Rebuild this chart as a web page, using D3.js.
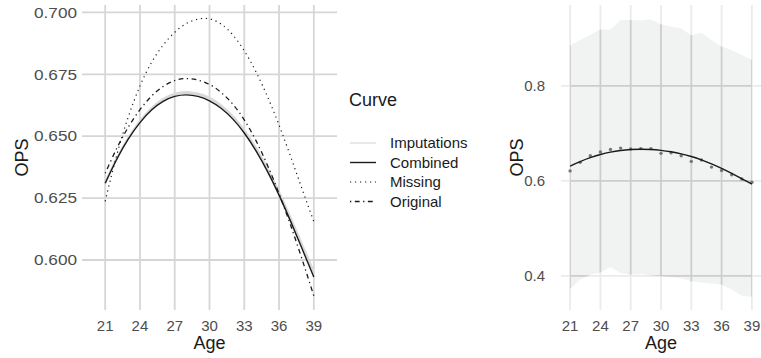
<!DOCTYPE html>
<html>
<head>
<meta charset="utf-8">
<script src="https://cdn.jsdelivr.net/npm/d3@7"></script>
<style>
  body { margin: 0; background: #fff; }
  text { font-family: "Liberation Sans", Arial, sans-serif; }
</style>
</head>
<body>
<svg id="viz" width="761" height="358"></svg>
<script>
// ages on the x axis, one value per age for every curve
var ages = [21, 22, 23, 24, 25, 26, 27, 28, 29, 30, 31, 32, 33, 34, 35, 36, 37, 38, 39];

var combined = [0.631, 0.6407, 0.6489, 0.6555, 0.6606, 0.6641, 0.6661, 0.6667, 0.6661, 0.6643, 0.6613, 0.6570, 0.6513, 0.6442, 0.6358, 0.6262, 0.6156, 0.6044, 0.5931];
var missing  = [0.6237, 0.6424, 0.6579, 0.6703, 0.6798, 0.6868, 0.6920, 0.6955, 0.6973, 0.6974, 0.6953, 0.6910, 0.6845, 0.6761, 0.6660, 0.6545, 0.6418, 0.6285, 0.6155];
var original = [0.635, 0.6451, 0.6537, 0.6607, 0.6662, 0.6701, 0.6725, 0.6733, 0.6727, 0.6709, 0.6677, 0.6630, 0.6566, 0.6483, 0.6383, 0.6268, 0.6140, 0.6001, 0.5855];

// individual imputation fits (light grey band)
var imp1 = [0.6313, 0.6411, 0.6494, 0.6561, 0.6613, 0.6649, 0.6670, 0.6677, 0.6671, 0.6654, 0.6624, 0.6581, 0.6524, 0.6453, 0.6369, 0.6274, 0.6169, 0.6059, 0.5950];
var imp2 = [0.6306, 0.6405, 0.6490, 0.6558, 0.6610, 0.6646, 0.6667, 0.6673, 0.6667, 0.6650, 0.6620, 0.6577, 0.6520, 0.6449, 0.6365, 0.6270, 0.6165, 0.6055, 0.5945];
var imp3 = [0.6318, 0.6415, 0.6497, 0.6564, 0.6616, 0.6652, 0.6673, 0.6680, 0.6674, 0.6657, 0.6627, 0.6584, 0.6527, 0.6457, 0.6373, 0.6279, 0.6175, 0.6066, 0.5958];
var imp4 = [0.6310, 0.6408, 0.6491, 0.6559, 0.6611, 0.6647, 0.6668, 0.6675, 0.6669, 0.6652, 0.6622, 0.6579, 0.6522, 0.6451, 0.6367, 0.6272, 0.6167, 0.6057, 0.5948];
var imputations = [imp1, imp2, imp3, imp4];

// right panel: observed means and the interval band
var observed  = [0.621, 0.639, 0.653, 0.661, 0.666, 0.669, 0.667, 0.668, 0.668, 0.658, 0.659, 0.653, 0.641, 0.644, 0.629, 0.622, 0.613, 0.604, 0.597];
var bandUpper = [0.885, 0.897, 0.908, 0.919, 0.919, 0.939, 0.939, 0.938, 0.940, 0.930, 0.925, 0.921, 0.907, 0.912, 0.897, 0.883, 0.875, 0.865, 0.855];
var bandLower = [0.372, 0.392, 0.402, 0.407, 0.418, 0.406, 0.402, 0.404, 0.401, 0.399, 0.397, 0.395, 0.388, 0.386, 0.384, 0.381, 0.371, 0.358, 0.356];

var xTicks = [21, 24, 27, 30, 33, 36, 39];
var yTicksLeft = [0.600, 0.625, 0.650, 0.675, 0.700];
var yTicksRight = [0.4, 0.6, 0.8];

var legendTitle = "Curve";
var legendItems = ["Imputations", "Combined", "Missing", "Original"];

var svg = d3.select("#viz");
var panelTop = 5, panelBottom = 310;
var tickSize = 15, titleSize = 18;

function rows(vals) {
    return ages.map(function(a, i) { return {x: a, y: vals[i]}; });
}

// ---------- left panel ----------
var xL = d3.scaleLinear().domain([19, 41]).range([82, 337]);
var yL = d3.scaleLinear().domain([0.5798, 0.7030]).range([panelBottom, panelTop]);
var left = svg.append("g");

left.selectAll(".hg").data(yTicksLeft).enter().append("line")
    .attr("x1", xL.range()[0]).attr("x2", xL.range()[1])
    .attr("y1", function(d) { return yL(d); }).attr("y2", function(d) { return yL(d); })
    .attr("stroke", "#d6d6d6").attr("stroke-width", 1.8);
left.selectAll(".vg").data(xTicks).enter().append("line")
    .attr("y1", panelTop).attr("y2", panelBottom)
    .attr("x1", function(d) { return xL(d); }).attr("x2", function(d) { return xL(d); })
    .attr("stroke", "#d6d6d6").attr("stroke-width", 1.8);

var lineL = d3.line().x(function(d) { return xL(d.x); }).y(function(d) { return yL(d.y); })
    .curve(d3.curveNatural);

imputations.forEach(function(s) {
    left.append("path").attr("d", lineL(rows(s)))
        .attr("fill", "none").attr("stroke", "#d9d9d9").attr("stroke-width", 1.2);
});
left.append("path").attr("d", lineL(rows(combined)))
    .attr("fill", "none").attr("stroke", "#1a1a1a").attr("stroke-width", 1.4);
left.append("path").attr("d", lineL(rows(missing)))
    .attr("fill", "none").attr("stroke", "#1a1a1a").attr("stroke-width", 1.2)
    .attr("stroke-dasharray", "1.2,3.8");
left.append("path").attr("d", lineL(rows(original)))
    .attr("fill", "none").attr("stroke", "#1a1a1a").attr("stroke-width", 1.3)
    .attr("stroke-dasharray", "1.3,3.5,4.8,3.5");

// y labels on this panel come out wider in the reference
left.selectAll(".yl").data(yTicksLeft).enter().append("text")
    .attr("x", 77).attr("y", function(d) { return yL(d); }).attr("dy", "0.35em")
    .attr("text-anchor", "end").attr("font-size", tickSize).attr("fill", "#4d4d4d")
    .attr("textLength", 43).attr("lengthAdjust", "spacingAndGlyphs")
    .text(function(d) { return d3.format(".3f")(d); });
left.selectAll(".xl").data(xTicks).enter().append("text")
    .attr("x", function(d) { return xL(d); }).attr("y", 331)
    .attr("text-anchor", "middle").attr("font-size", tickSize).attr("fill", "#4d4d4d")
    .text(function(d) { return d; });
left.append("text").attr("x", xL(30)).attr("y", 349).attr("text-anchor", "middle")
    .attr("font-size", titleSize).attr("fill", "#1a1a1a").text("Age");
left.append("text").attr("transform", "translate(28," + ((panelTop + panelBottom) / 2) + ") rotate(-90)")
    .attr("text-anchor", "middle").attr("font-size", titleSize).attr("fill", "#1a1a1a").text("OPS");

// ---------- legend ----------
var lg = svg.append("g");
lg.append("text").attr("x", 349).attr("y", 106).attr("font-size", 18)
    .attr("fill", "#1a1a1a").text(legendTitle);
var keyStyle = {
    "Imputations": {stroke: "#d9d9d9", dash: null, w: 1.2},
    "Combined": {stroke: "#1a1a1a", dash: null, w: 1.4},
    "Missing": {stroke: "#1a1a1a", dash: "1.2,3.8", w: 1.2},
    "Original": {stroke: "#1a1a1a", dash: "1.3,3.5,4.8,3.5", w: 1.3}
};
legendItems.forEach(function(name, i) {
    var yy = 143 + i * 19.5;
    var st = keyStyle[name];
    lg.append("line").attr("x1", 350).attr("x2", 376).attr("y1", yy).attr("y2", yy)
        .attr("stroke", st.stroke).attr("stroke-width", st.w)
        .attr("stroke-dasharray", st.dash);
    lg.append("text").attr("x", 390).attr("y", yy).attr("dy", "0.35em")
        .attr("font-size", tickSize).attr("fill", "#1a1a1a").text(name);
});

// ---------- right panel ----------
var xR = d3.scaleLinear().domain([20.1, 39.9]).range([561, 761]);
var yR = d3.scaleLinear().domain([0.328, 0.9705]).range([panelBottom, panelTop]);
var right = svg.append("g");

var area = d3.area().x(function(d) { return xR(d.x); })
    .y0(function(d) { return yR(d.lo); }).y1(function(d) { return yR(d.hi); });
var bandRows = ages.map(function(a, i) { return {x: a, lo: bandLower[i], hi: bandUpper[i]}; });

function rightGrid(g, color) {
    g.selectAll(".hg").data(yTicksRight).enter().append("line")
        .attr("x1", xR.range()[0]).attr("x2", xR.range()[1])
        .attr("y1", function(d) { return yR(d); }).attr("y2", function(d) { return yR(d); })
        .attr("stroke", color).attr("stroke-width", 1.8);
    g.selectAll(".vg").data(xTicks).enter().append("line")
        .attr("y1", panelTop).attr("y2", panelBottom)
        .attr("x1", function(d) { return xR(d); }).attr("x2", function(d) { return xR(d); })
        .attr("stroke", color).attr("stroke-width", 1.8);
}

rightGrid(right.append("g"), "#ebebeb");
right.append("path").attr("d", area(bandRows)).attr("fill", "#f1f2f2");
svg.append("clipPath").attr("id", "bandclip").append("path").attr("d", area(bandRows));
rightGrid(right.append("g").attr("clip-path", "url(#bandclip)"), "#cdcdcd");

right.selectAll(".pt").data(rows(observed)).enter().append("circle")
    .attr("cx", function(d) { return xR(d.x); }).attr("cy", function(d) { return yR(d.y); })
    .attr("r", 1.7).attr("fill", "#777");
var lineR = d3.line().x(function(d) { return xR(d.x); }).y(function(d) { return yR(d.y); })
    .curve(d3.curveNatural);
right.append("path").attr("d", lineR(rows(combined)))
    .attr("fill", "none").attr("stroke", "#1a1a1a").attr("stroke-width", 1.4);

right.selectAll(".yl").data(yTicksRight).enter().append("text")
    .attr("x", 545).attr("y", function(d) { return yR(d); }).attr("dy", "0.35em")
    .attr("text-anchor", "end").attr("font-size", tickSize).attr("fill", "#4d4d4d")
    .text(function(d) { return d3.format(".1f")(d); });
right.selectAll(".xl").data(xTicks).enter().append("text")
    .attr("x", function(d) { return xR(d); }).attr("y", 331)
    .attr("text-anchor", "middle").attr("font-size", tickSize).attr("fill", "#4d4d4d")
    .text(function(d) { return d; });
right.append("text").attr("x", xR(30)).attr("y", 349).attr("text-anchor", "middle")
    .attr("font-size", titleSize).attr("fill", "#1a1a1a").text("Age");
right.append("text").attr("transform", "translate(523," + ((panelTop + panelBottom) / 2) + ") rotate(-90)")
    .attr("text-anchor", "middle").attr("font-size", titleSize).attr("fill", "#1a1a1a").text("OPS");
</script>
</body>
</html>
